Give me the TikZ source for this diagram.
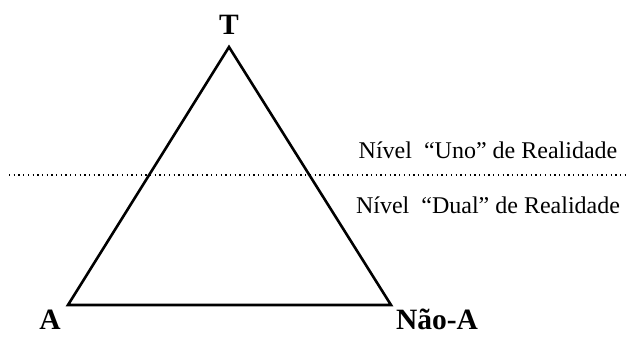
\documentclass[tikz,border=0pt]{standalone}
\usepackage{fontspec}
\setmainfont{Liberation Serif}
\usetikzlibrary{positioning,calc}
\tikzset{vert/.style={font=\fontsize{29.5}{32}\selectfont\bfseries,inner sep=0pt},
 nivel/.style={font=\fontsize{24}{27}\selectfont,inner sep=0pt},
 side/.style={line width=2.6pt,line join=miter},
 limite/.style={line width=1.3pt,dash pattern=on 1.3pt off 3.4pt}}

\begin{document}
\begin{tikzpicture}[x=1pt,y=1pt]
\useasboundingbox (0,0) rectangle (629,337);
\coordinate(t) at(229,290);\coordinate(a) at(68,32);\coordinate(na) at(391,32);
\node[vert](lt) at(229,312){T};
\node[vert,anchor=base](la) at(50,7){A};
\node[vert,anchor=base](lna) at(437,7){Não-A};
\draw[side](a)--(t)--(na)--cycle;
\coordinate(e) at(9,162);\coordinate(d) at(626,162);
\draw[limite](e)--(d);
\node[nivel](uno) at(488,187){Nível\ \ “Uno” de Realidade};
\node[nivel](dual) at(488,132){Nível\ \ “Dual” de Realidade};
\end{tikzpicture}
\end{document}
